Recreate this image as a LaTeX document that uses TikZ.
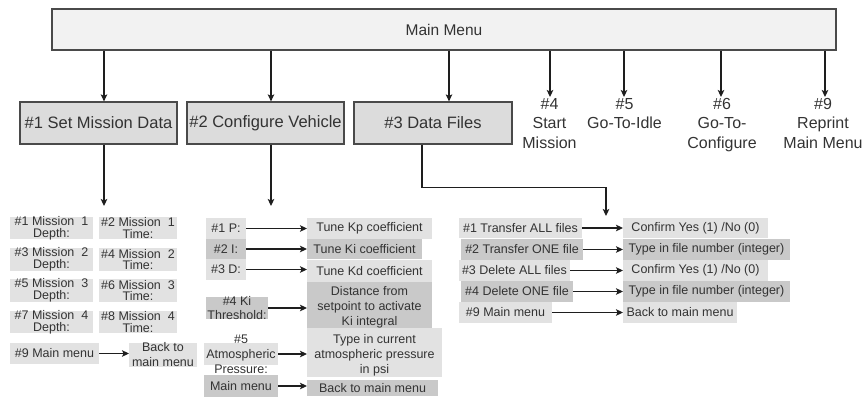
\documentclass[tikz,border=0pt]{standalone}
\usepackage{fontspec}
\setmainfont{Liberation Sans}
\usetikzlibrary{arrows.meta}

\definecolor{ink}{HTML}{333333}
\definecolor{wire}{HTML}{1E1E1E}
\definecolor{frame}{HTML}{4A4A4A}
\definecolor{menuFill}{HTML}{F2F2F2}
\definecolor{boxFill}{HTML}{DCDCDC}
\definecolor{cellLite}{HTML}{E2E2E2}
\definecolor{cellDark}{HTML}{C9C9C9}

% a filled cell with its (possibly overflowing) text on top
\newcommand\mkcell[8]{%
  \node[#6, minimum width=#4pt, minimum height=#5pt] (#1) at (#2,#3) {};
  \node[txt, #7] (#1-t) at (#1.center) {#8};}

\begin{document}
\begin{tikzpicture}[x=1pt, y=-1pt,
  menubox/.style={draw=frame, line width=1.2pt, fill=menuFill, inner sep=0pt,
    text=ink, font=\fontsize{15.5}{18}\selectfont},
  topbox/.style={draw=frame, line width=1.2pt, fill=boxFill, inner sep=0pt,
    minimum width=157pt, minimum height=42pt, text=ink,
    font=\fontsize{16.5}{19}\selectfont},
  toplabel/.style={anchor=north, align=center, inner sep=1pt, text=ink,
    font=\fontsize{16}{19.5}\selectfont},
  lite/.style={fill=cellLite, inner sep=0pt, outer sep=0pt},
  dark/.style={fill=cellDark, inner sep=0pt, outer sep=0pt},
  txt/.style={align=center, inner sep=0pt, text=ink,
    font=\fontsize{12.5}{15}\selectfont},
  tight/.style={font=\fontsize{12.5}{11.7}\selectfont},
  mid/.style={font=\fontsize{12.5}{14}\selectfont},
  arr/.style={draw=wire, line width=1.2pt,
    -{Stealth[length=7pt, width=6.5pt, inset=1.5pt]}}
]
\useasboundingbox (0,0) rectangle (866,401);

% ---------- main menu and first level ----------
\node[menubox, minimum width=784pt, minimum height=41pt] (main) at (444,29.5) {Main Menu};

\node[topbox] (b1) at (98.5,123) {\#1 Set Mission Data};
\node[topbox] (b2) at (265.5,123) {\#2 Configure Vehicle};
\node[topbox, minimum width=158pt] (b3) at (433,123) {\#3 Data Files};

\node[toplabel] (l4) at (549.5,97) {\#4\\Start\\Mission};
\node[toplabel] (l5) at (624.5,97) {\#5\\Go-To-Idle};
\node[toplabel] (l6) at (722,97) {\#6\\Go-To-\\Configure};
\node[toplabel] (l9) at (823,97) {\#9\\Reprint\\Main Menu};

\coordinate (k1) at (104,0);
\coordinate (k2) at (271,0);
\coordinate (k3) at (449,0);
\coordinate (k4) at (550,0);
\coordinate (k5) at (624,0);
\coordinate (k6) at (721,0);
\coordinate (k9) at (825,0);

\draw[arr] (main.south -| k1) -- (b1.north -| k1);
\draw[arr] (main.south -| k2) -- (b2.north -| k2);
\draw[arr] (main.south -| k3) -- (b3.north -| k3);
\draw[arr] (main.south -| k4) -- (l4.north -| k4);
\draw[arr] (main.south -| k5) -- (l5.north -| k5);
\draw[arr] (main.south -| k6) -- (l6.north -| k6);
\draw[arr] (main.south -| k9) -- (l9.north -| k9);

% ---------- set mission data ----------
\coordinate (g1) at (104,206);
\draw[arr] (b1.south -| k1) -- (g1);

\mkcell{m1}{51.5}{228}{83}{22}{lite}{tight}{\#1 Mission \ 1\\Depth:}
\mkcell{m2}{138}{228}{78}{22}{lite}{tight}{\#2 Mission \ 1\\Time:}
\mkcell{m3}{51.5}{259.5}{83}{23}{lite}{tight}{\#3 Mission \ 2\\Depth:}
\mkcell{m4}{138}{259.5}{78}{23}{lite}{tight}{\#4 Mission \ 2\\Time:}
\mkcell{m5}{51.5}{290.5}{83}{23}{lite}{tight}{\#5 Mission \ 3\\Depth:}
\mkcell{m6}{138}{290.5}{78}{23}{lite}{tight}{\#6 Mission \ 3\\Time:}
\mkcell{m7}{51.5}{322}{83}{22}{lite}{tight}{\#7 Mission \ 4\\Depth:}
\mkcell{m8}{138}{322}{78}{22}{lite}{tight}{\#8 Mission \ 4\\Time:}
\mkcell{m9}{54.5}{353.5}{89}{21}{lite}{}{\#9 Main menu}
\mkcell{mb}{163}{355}{68}{24}{lite}{}{Back to\\main menu}
\draw[arr] (m9.east) -- (m9.east -| mb.west);

% ---------- configure vehicle ----------
\coordinate (g2) at (271,206);
\draw[arr] (b2.south -| k2) -- (g2);

\mkcell{cp}{226}{228.5}{40}{21}{lite}{}{\#1 P:}
\mkcell{ci}{226}{249}{40}{20}{dark}{}{\#2 I:}
\mkcell{cd}{226}{269.5}{40}{21}{lite}{}{\#3 D:}
\mkcell{ck}{237}{308}{62}{22}{dark}{mid}{\#4 Ki\\Threshold:}
\mkcell{ca}{241}{354}{74}{22}{lite}{}{\#5\\Atmospheric\\Pressure:}
\mkcell{cm}{241}{386}{74}{22}{dark}{}{Main menu}

\mkcell{rp}{369.5}{228.5}{125}{21}{lite}{}{Tune Kp coefficient}
\mkcell{ri}{364.5}{249}{115}{20}{dark}{}{Tune Ki coefficient}
\mkcell{rd}{369.5}{271}{125}{22}{lite}{}{Tune Kd coefficient}
\mkcell{rk}{369.5}{307.5}{125}{51}{dark}{}{Distance from\\setpoint to activate\\Ki integral}
\node[lite, minimum width=135pt, minimum height=49pt] (ra) at (374.5,352.5) {};
\node[txt] (ra-t) at (374.5,355) {Type in current\\atmospheric pressure\\in psi};
\mkcell{rm}{372.5}{388}{131}{16}{dark}{}{Back to main menu}

\draw[arr] (cp.east) -- (cp.east -| rp.west);
\draw[arr] (ci.east) -- (ci.east -| ri.west);
\draw[arr] (cd.east) -- (cd.east -| rd.west);
\draw[arr] (ck.east) -- (ck.east -| rk.west);
\draw[arr] (ca.east) -- (ca.east -| ra.west);
\draw[arr] (cm.east) -- (cm.east -| rm.west);

% ---------- data files ----------
\coordinate (j3) at (422,0);
\coordinate (g3) at (606,216);
\draw[arr] (b3.south -| j3) -- ++(0,43) -| (g3);

\mkcell{f1}{520.5}{228}{123}{20}{lite}{}{\#1 Transfer ALL files}
\mkcell{f2}{522}{249.5}{122}{21}{dark}{}{\#2 Transfer ONE file}
\mkcell{f3}{514.5}{270.5}{111}{21}{lite}{}{\#3 Delete ALL files}
\mkcell{f4}{517}{291.5}{112}{21}{dark}{}{\#4 Delete ONE file}
\mkcell{f9}{505.5}{312.5}{93}{21}{lite}{}{\#9 Main menu}

\mkcell{a1}{695.5}{228}{145}{20}{lite}{}{Confirm Yes (1) /No (0)}
\mkcell{a2}{706.5}{249.5}{167}{21}{dark}{}{Type in file number (integer)}
\mkcell{a3}{695.5}{270.5}{145}{21}{lite}{}{Confirm Yes (1) /No (0)}
\mkcell{a4}{706.5}{291.5}{167}{21}{dark}{}{Type in file number (integer)}
\mkcell{a9}{680}{312.5}{114}{21}{lite}{}{Back to main menu}

\draw[arr] (f1.east) -- (f1.east -| a1.west);
\draw[arr] (f2.east) -- (f2.east -| a2.west);
\draw[arr] (f3.east) -- (f3.east -| a3.west);
\draw[arr] (f4.east) -- (f4.east -| a4.west);
\draw[arr] (f9.east) -- (f9.east -| a9.west);
\end{tikzpicture}
\end{document}
